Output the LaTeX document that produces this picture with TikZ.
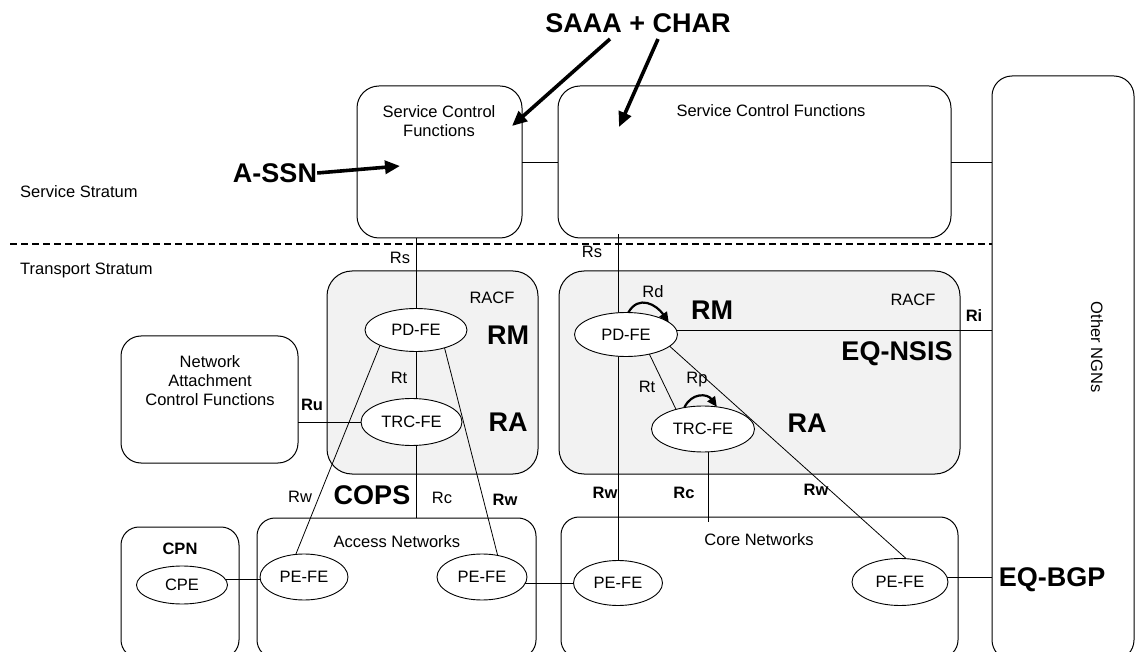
\documentclass[tikz,border=0pt]{standalone}
\usepackage{fontspec}
\setmainfont{Liberation Sans}
\usetikzlibrary{shapes.geometric,arrows.meta,calc}
\pgfdeclarelayer{back}
\pgfdeclarelayer{wires}
\pgfsetlayers{back,wires,main}
\definecolor{racfgray}{HTML}{F2F2F2}

\begin{document}
\begin{tikzpicture}[x=1pt,y=-1pt,
  lbl/.style={font=\fontsize{16.5}{19}\selectfont, inner sep=0pt},
  blbl/.style={font=\fontsize{16.5}{19}\selectfont\bfseries, inner sep=0pt},
  big/.style={font=\fontsize{27}{30}\selectfont\bfseries, inner sep=0pt},
  box/.style={draw, rectangle, line width=1pt, rounded corners=#1,
              inner sep=0pt, outer sep=0pt},
  box/.default=20pt,
  sz/.style 2 args={minimum width=#1, minimum height=#2},
  fe/.style={draw, ellipse, fill=white, line width=0.9pt, inner sep=0pt,
             outer sep=0pt, font=\fontsize{16.5}{19}\selectfont},
  wire/.style={line width=0.8pt},
  fatarrow/.style={line width=3.6pt, -{Triangle[length=15pt,width=13pt]}},
  loop/.style={line width=2.2pt, -{Triangle[length=10pt,width=9pt]}},
]
\useasboundingbox (0,0) rectangle (1136,652);

% ---------- boxes ----------
\begin{pgfonlayer}{back}
  \node[box=22pt, sz={165}{152}] (scf1) at (439.5,162) {};
  \node[box=22pt, sz={393}{152}] (scf2) at (754.5,162) {};
  \node[box=20pt, sz={142}{584}] (ngn)  at (1063,368) {};
  \node[box=25pt, sz={211}{203}, fill=racfgray] (racfl) at (432.5,372.5) {};
  \node[box=25pt, sz={401}{203}, fill=racfgray] (racfr) at (759.5,372.5) {};
  \node[box=20pt, sz={177}{127}] (nacf) at (209.5,399.5) {};
  \node[box=18pt, sz={118}{131}] (cpn)  at (180,592.5) {};
  \node[box=18pt, sz={279}{140}] (acc)  at (396.5,588) {};
  \node[box=18pt, sz={397}{141}] (core) at (759.5,587.5) {};
\end{pgfonlayer}

% ---------- functional entities ----------
\node[fe, sz={102}{43}] (pdl)  at (416,330)   {PD-FE};
\node[fe, sz={101}{47}] (trl)  at (411.5,422) {TRC-FE};
\node[fe, sz={103}{44}] (pdr)  at (626,334.5) {PD-FE};
\node[fe, sz={103}{46}] (trr)  at (703,429)   {TRC-FE};
\node[fe, sz={91}{38}]  (cpe)  at (182,585)   {CPE};
\node[fe, sz={88}{46}]  (peal) at (304,577)   {PE-FE};
\node[fe, sz={90}{46}]  (pear) at (482,577)   {PE-FE};
\node[fe, sz={89}{45}]  (pecl) at (618,583)   {PE-FE};
\node[fe, sz={96}{47}]  (pecr) at (900,582)   {PE-FE};

% ---------- box titles ----------
\node[lbl, align=center] (scf1t) at (439,121) {Service Control\\Functions};
\node[lbl] (scf2t) at (771,111) {Service Control Functions};
\node[lbl, rotate=-90] (ngnt) at (1097,347) {Other NGNs};
\node[lbl, align=center] (nacft) at (210,381) {Network\\Attachment\\Control Functions};
\node[blbl] (cpnt)  at (180,549) {CPN};
\node[lbl]  (acct)  at (397,542) {Access Networks};
\node[lbl]  (coret) at (759,540) {Core Networks};
\node[lbl]  (racflt) at (492,298) {RACF};
\node[lbl]  (racfrt) at (913,300) {RACF};

% ---------- strata ----------
\node[lbl, anchor=west] (ss) at (20,192) {Service Stratum};
\node[lbl, anchor=west] (ts) at (20,270) {Transport Stratum};
\coordinate (dashL) at (10,244);
\draw[line width=1.7pt, dash pattern=on 7pt off 4pt] (dashL) -- (dashL -| ngn.west);

% ---------- interfaces ----------
\begin{pgfonlayer}{wires}
  \draw[wire] (scf1.east) -- (scf2.west);
  \draw[wire] (scf2.east) -- (scf2.east -| ngn.west);
  % Rs
  \draw[wire] (pdl.north) -- (pdl.north |- scf1.south);
  \draw[wire] (pecl.north) -- ([yshift=4pt]pecl.north |- scf2.south);
  % Rt
  \draw[wire] (pdl.south) -- (pdl.south |- trl.north);
  \draw[wire] (pdr.320) -- (trr.144);
  % Rc
  \draw[wire] (trl.south -| pdl.south) -- (pdl.south |- acc.north);
  \draw[wire] ([xshift=5pt]trr.south) -- ([xshift=5pt,yshift=-5pt]trr.south |- core.north);
  % Ru
  \draw[wire] (trl.west) -- (trl.west -| nacf.east);
  % Ri
  \draw[wire] (pdr.5) -- (pdr.5 -| ngn.west);
  % Rw
  \draw[wire] (pdl.203) -- (peal.110);
  \draw[wire] (pdl.328) -- (pear.54);
  \draw[wire] (pdr.345) -- (pecr.75);
  % transport links
  \draw[wire] (cpe.8) -- (cpe.8 -| peal.west);
  \draw[wire] (pear.-8) -- (pear.-8 -| pecl.west);
  \draw[wire] (pecr.6) -- (pecr.6 -| ngn.west);
\end{pgfonlayer}

% Rd and Rp loops
\draw[loop] (pdr.84) to[out=60,in=125,looseness=1.3] (pdr.16);
\draw[loop] (trr.131) to[out=65,in=125,looseness=1.3] (trr.58);

% ---------- interface labels ----------
\node[lbl]  (rs1) at (400,258) {Rs};
\node[lbl]  (rs2) at (592,252) {Rs};
\node[lbl]  (rt1) at (399,378) {Rt};
\node[lbl]  (rt2) at (647,387) {Rt};
\node[lbl]  (rd)  at (653,292) {Rd};
\node[lbl]  (rp)  at (697,380) {Rp};
\node[blbl] (ru)  at (312,405) {Ru};
\node[blbl] (ri)  at (974,316) {Ri};
\node[lbl]  (rw1) at (300,497) {Rw};
\node[lbl]  (rc1) at (442,498) {Rc};
\node[blbl] (rw2) at (505,500) {Rw};
\node[blbl] (rw3) at (605,493) {Rw};
\node[blbl] (rc2) at (684,493) {Rc};
\node[blbl] (rw4) at (816,490) {Rw};

% ---------- mechanism labels ----------
\node[big] (rml)  at (508,335) {RM};
\node[big] (ral)  at (508,422) {RA};
\node[big] (rmr)  at (712,310) {RM};
\node[big] (rar)  at (807,423) {RA};
\node[big] (nsis) at (897,354) {EQ-NSIS};
\node[big] (cops) at (372,495) {COPS};
\node[big] (bgp)  at (1052,580) {EQ-BGP};
\node[big] (saaa) at (638,23) {SAAA + CHAR};
\node[big] (assn) at (275,173) {A-SSN};

\coordinate (saaaL) at (610,39);
\coordinate (saaaR) at (658,39);
\coordinate (tipL)  at (512,126);
\coordinate (tipR)  at (619,127);
\coordinate (tipA)  at (400,166);
\draw[fatarrow] (saaaL) -- (tipL);
\draw[fatarrow] (saaaR) -- (tipR);
\draw[fatarrow] (assn.east) -- (tipA);
\end{tikzpicture}
\end{document}
